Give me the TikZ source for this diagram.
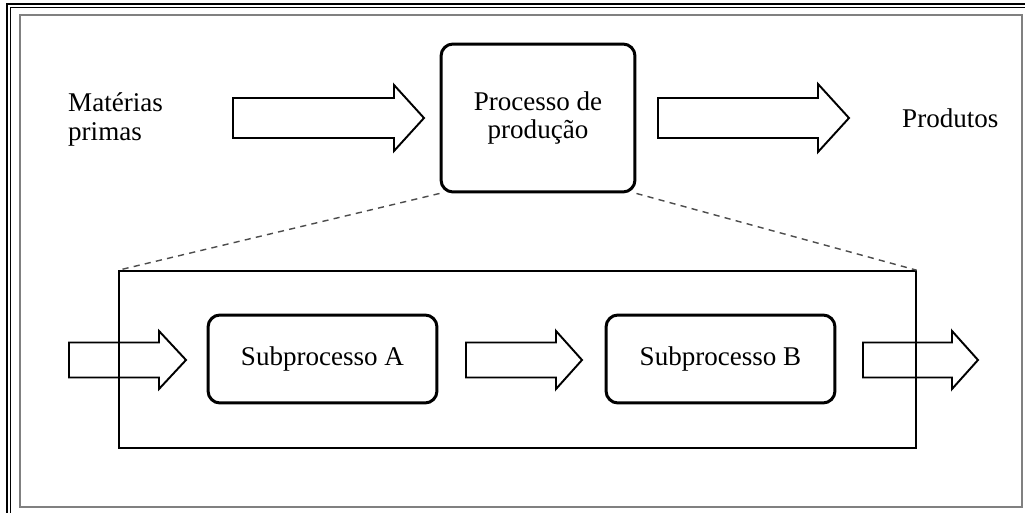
\documentclass[tikz,border=0pt]{standalone}
\usepackage{fontspec}
\setmainfont{Liberation Serif}
\tikzset{
  procbox/.style={draw, line width=1.7pt, rounded corners=0.24cm, align=center, inner sep=0pt},
  hollow/.style={draw, line width=1.1pt, line join=miter},
  zoomline/.style={dash pattern=on 3.5pt off 3pt, gray!60!black, line width=0.8pt},
}
\begin{document}
\begin{tikzpicture}[x=0.02cm, y=-0.02cm, font=\fontsize{15.4}{16.5}\selectfont]
	\useasboundingbox (0,0) rectangle (1025,513);
	% page frame
	\draw[line width=0.8pt] (7,513) -- (7,4) -- (1025,4);
	\draw[line width=0.8pt] (10.5,513) -- (10.5,7.5) -- (1025,7.5);
	\draw[gray, line width=1.2pt] (20,15) rectangle (1022,507);
	% top level
	\node[align=left, anchor=west] (mat) at (62,119) {Matérias\\primas};
	\node[procbox, minimum width=3.88cm, minimum height=2.96cm] (prod) at (538,118) {Processo de\\produção};
	\node[anchor=west] (out) at (896,118) {Produtos};
	\draw[hollow] (233,98) -- (394,98) -- (394,85) -- (424,118) -- (394,151) -- (394,138) -- (233,138) -- cycle;
	\draw[hollow] (658,98) -- (818,98) -- (818,84) -- (849,118) -- (818,152) -- (818,138) -- (658,138) -- cycle;
	% detail
	\node[draw, line width=0.9pt, minimum width=15.94cm, minimum height=3.54cm] (frame) at (517.5,359.5) {};
	\node[procbox, minimum width=4.58cm, minimum height=1.76cm] (suba) at (322.5,359) {Subprocesso A};
	\node[procbox, minimum width=4.58cm, minimum height=1.76cm] (subb) at (720.5,359) {Subprocesso B};
	\draw[zoomline] (prod.south west) -- (frame.north west);
	\draw[zoomline] (prod.south east) -- (frame.north east);
	\foreach \xa/\xb/\xt in {69/159/186, 466/556/582, 863/952/978}
		\draw[hollow] (\xa,342.5) -- (\xb,342.5) -- (\xb,331) -- (\xt,360) -- (\xb,389) -- (\xb,377.5) -- (\xa,377.5) -- cycle;
\end{tikzpicture}
\end{document}
